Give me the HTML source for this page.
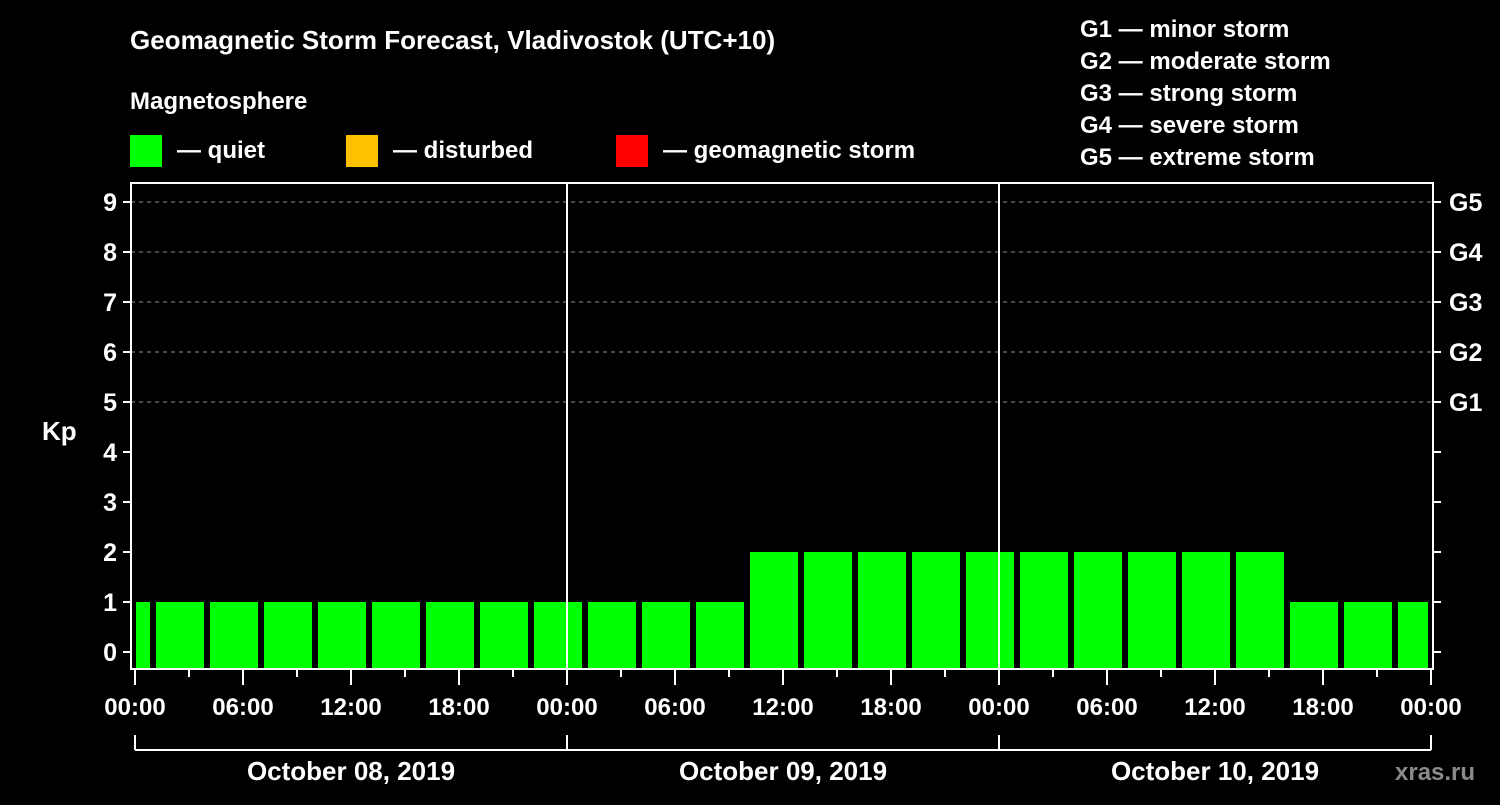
<!DOCTYPE html>
<html><head><meta charset="utf-8"><style>
body{margin:0;background:#000;width:1500px;height:800px;overflow:hidden;font-family:"Liberation Sans",sans-serif;color:#fff}
svg text{font-family:"Liberation Sans",sans-serif;font-weight:bold;fill:#fff}
</style></head><body>
<svg width="1500" height="800">
<text x="130" y="49" font-size="26">Geomagnetic Storm Forecast, Vladivostok (UTC+10)</text>
<text x="130" y="109" font-size="24">Magnetosphere</text>
<rect x="130" y="135" width="32" height="32" fill="#00ff00"/>
<text x="177" y="158" font-size="24">— quiet</text>
<rect x="346" y="135" width="32" height="32" fill="#ffc000"/>
<text x="393" y="158" font-size="24">— disturbed</text>
<rect x="616" y="135" width="32" height="32" fill="#ff0000"/>
<text x="663" y="158" font-size="24">— geomagnetic storm</text>
<g font-size="24">
<text x="1080" y="37">G1 — minor storm</text>
<text x="1080" y="69">G2 — moderate storm</text>
<text x="1080" y="101">G3 — strong storm</text>
<text x="1080" y="133">G4 — severe storm</text>
<text x="1080" y="165">G5 — extreme storm</text>
</g>
<text x="42" y="440" font-size="26">Kp</text>
<text x="1395" y="780" font-size="24" fill="#888" style="fill:#8a8a8a">xras.ru</text>
<g id="plot"></g>
</svg>
<script>
const kpValues=[1,1,1,1,1,1,1,1,1,1,1,1,2,2,2,2,2,2,2,2,2,2,1,1,1];
const hourTicks=["00:00","06:00","12:00","18:00","00:00","06:00","12:00","18:00","00:00","06:00","12:00","18:00","00:00"];
const dateLabels=["October 08, 2019","October 09, 2019","October 10, 2019"];
const gLabels=["G1","G2","G3","G4","G5"];
const kpTicks=[0,1,2,3,4,5,6,7,8,9];
const NS="http://www.w3.org/2000/svg";
const g=document.getElementById('plot');
const X=h=>135+h*18, Y=k=>652-k*50;
const L=131,R=1433,T=183,B=669;
function el(t,a,p){const e=document.createElementNS(NS,t);for(const k in a)e.setAttribute(k,a[k]);(p||g).appendChild(e);return e;}
// grid
for(let k=5;k<=9;k++){const l=el('line',{x1:L,x2:R,y1:Y(k),y2:Y(k),stroke:'#888','stroke-dasharray':'4,4','stroke-width':1});

}
// bars
kpValues.forEach((v,i)=>{const s=-2+3*i;let x0=Math.max(X(s)+3,136),x1=Math.min(X(s)+51,1428);
const r=el('rect',{x:x0,y:Y(v),width:x1-x0,height:B-Y(v),fill:v>=5?'#ff0000':(v>=4?'#ffc000':'#00ff00')});

});
// day separators
[24,48].forEach(h=>{const l=el('line',{x1:X(h),x2:X(h),y1:T,y2:B,stroke:'#fff','stroke-width':2});

});
// frame
const f=el('rect',{x:L,y:T,width:R-L,height:B-T,fill:'none',stroke:'#fff','stroke-width':2});


// y ticks
kpTicks.forEach(k=>{el('line',{x1:L-8,x2:L,y1:Y(k),y2:Y(k),stroke:'#fff','stroke-width':2});
el('line',{x1:R,x2:R+8,y1:Y(k),y2:Y(k),stroke:'#fff','stroke-width':2});
const t=el('text',{x:L-14,y:Y(k)+9,'font-size':25,'text-anchor':'end'});t.textContent=k;

});
gLabels.forEach((s,i)=>{const t=el('text',{x:1449,y:Y(5+i)+9,'font-size':25});t.textContent=s;

});
// x ticks
for(let h=0;h<=72;h+=3){el('line',{x1:X(h),x2:X(h),y1:B,y2:B+(h%6==0?16:8),stroke:'#fff','stroke-width':2});}
hourTicks.forEach((s,i)=>{const t=el('text',{x:X(i*6),y:715,'font-size':24,'text-anchor':'middle'});t.textContent=s;

});
// date bracket
el('line',{x1:X(0),x2:X(72),y1:750,y2:750,stroke:'#fff','stroke-width':2});
[0,24,48,72].forEach(h=>el('line',{x1:X(h),x2:X(h),y1:735,y2:750,stroke:'#fff','stroke-width':2}));
dateLabels.forEach((s,i)=>{const t=el('text',{x:X(12+24*i),y:780,'font-size':26,'text-anchor':'middle'});t.textContent=s;

});
</script>
</body></html>
